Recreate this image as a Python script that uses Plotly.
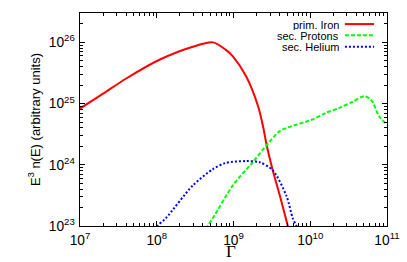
import plotly.graph_objects as go

# Data (Gamma, E^3 n(E))
iron_gamma = [1.0e7, 2.0e7, 4.0e7, 1.1e8, 2.95e8, 5.4e8, 7.9e8, 9.8e8, 1.46e9, 2.1e9,
              2.45e9, 2.7e9, 3.25e9, 4.0e9, 5.1e9, 5.75e9]
iron_flux = [8.3e24, 1.45e25, 2.57e25, 5.25e25, 8.5e25, 1.0e26, 7.6e25, 5.9e25, 2.8e25, 8.9e24,
             4.0e24, 2.1e24, 8.1e23, 3.2e23, 1.0e23, 5.6e22]

proton_gamma = [4.0e8, 4.6e8, 5.4e8, 9.8e8, 1.78e9, 2.7e9, 4.0e9, 4.9e9, 1.07e10, 1.62e10,
                2.4e10, 3.55e10, 5.1e10, 6.3e10, 7.9e10, 1.0e11]
proton_flux = [7.4e22, 1.0e23, 1.35e23, 4.6e23, 1.1e24, 2.1e24, 3.55e24, 4.0e24, 5.5e24, 7.1e24,
               8.5e24, 1.07e25, 1.32e25, 1.12e25, 6.2e24, 4.5e24]

helium_gamma = [8.9e7, 1.02e8, 1.32e8, 2.95e8, 5.4e8, 7.9e8, 1.46e9, 2.2e9, 3.25e9, 4.9e9,
                5.9e9, 6.6e9, 7.1e9]
helium_flux = [7.6e22, 1.0e23, 1.35e23, 4.6e23, 8.5e23, 1.07e24, 1.15e24, 1.1e24, 8.1e23, 3.1e23,
               1.35e23, 1.0e23, 7.9e22]

series_names = ["prim. Iron", "sec. Protons", "sec. Helium"]
colors = ["#ff0000", "#00ff00", "#0000ff"]
dashes = ["solid", "4px,2px", "2px,2px"]
x_title = "Γ"
y_title = "E<sup>3</sup> n(E) (arbitrary units)"

fig = go.Figure()
for xs, ys, name, c, d in zip([iron_gamma, proton_gamma, helium_gamma],
                              [iron_flux, proton_flux, helium_flux],
                              series_names, colors, dashes):
    fig.add_trace(go.Scatter(x=xs, y=ys, mode="lines", name=name,
                             line=dict(color=c, width=2, dash=d, shape="spline", smoothing=0.8),
                             showlegend=False))

# custom gnuplot-style legend (text right aligned, sample on the right)
for i, (name, c, d) in enumerate(zip(series_names, colors, dashes)):
    yp = 0.948 - i * 0.053
    fig.add_annotation(x=0.846, y=yp, xref="paper", yref="paper", text=name,
                       showarrow=False, xanchor="right", yanchor="middle",
                       height=11, borderpad=0, valign="middle",
                       font=dict(size=11, color="black", family="Liberation Sans"))
    fig.add_shape(type="line", xref="paper", yref="paper", x0=0.863, x1=0.958, y0=yp, y1=yp,
                  line=dict(color=c, width=2, dash=d))

# x-axis title placed like gnuplot's xlabel
fig.add_annotation(x=0.493, y=-0.169, xref="paper", yref="paper", text=x_title,
                   showarrow=False, xanchor="center", yanchor="bottom", borderpad=0,
                   font=dict(size=17, family="Liberation Serif", color="black"))

axis_common = dict(type="log", showgrid=False, zeroline=False, showline=True, linecolor="black",
                   linewidth=1, mirror="ticks", ticks="inside", ticklen=5, tickcolor="black",
                   tickmode="linear", tick0=0, dtick=1, exponentformat="power", automargin=False,
                   tickfont=dict(size=11, family="Liberation Sans", color="black"),
                   minor=dict(ticks="inside", ticklen=3, tickcolor="black", dtick="D1", showgrid=False))

fig.update_xaxes(**axis_common, range=[7, 11], ticklabelstandoff=2)
fig.update_yaxes(**axis_common, range=[23, 26.48], ticklabelstandoff=2,
                 title=dict(text=y_title,
                            font=dict(size=13, family="Liberation Sans", color="black"), standoff=5))

fig.update_layout(width=407, height=262, margin=dict(l=80, r=20, t=13, b=36),
                  plot_bgcolor="white", paper_bgcolor="white")

fig.write_html("out.html", config={"displayModeBar": False},
               post_script="document.body.style.margin='0';")
